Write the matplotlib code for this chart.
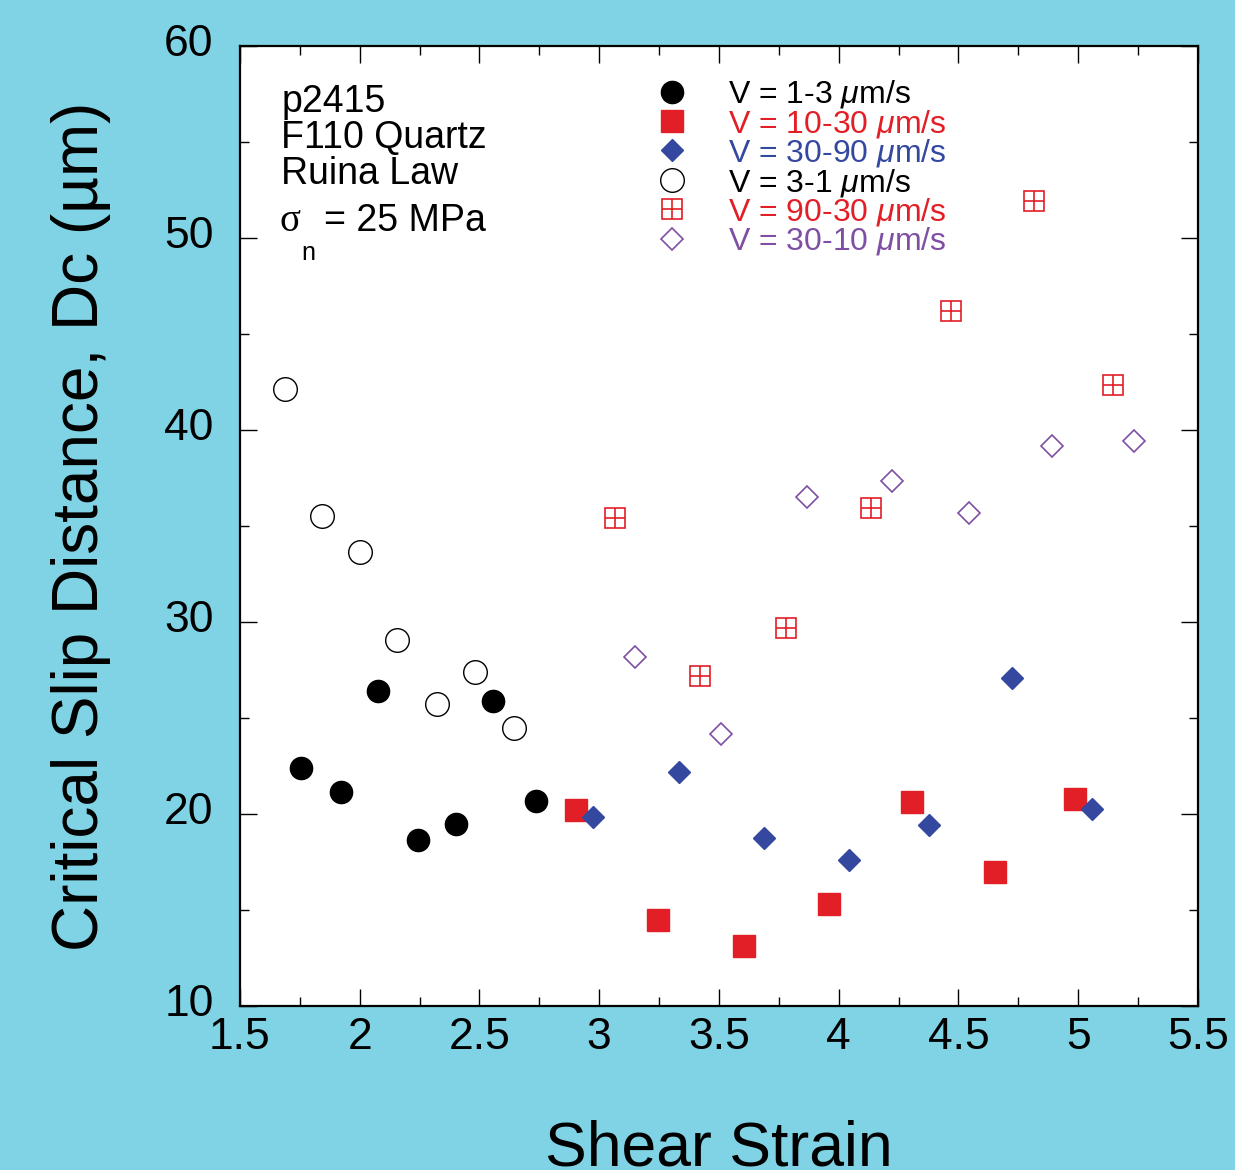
import matplotlib
matplotlib.use("Agg")
import matplotlib.pyplot as plt
from matplotlib.ticker import MultipleLocator
from matplotlib.transforms import ScaledTranslation

plt.rcParams['font.family'] = ['Liberation Sans', 'DejaVu Sans']
plt.rcParams['mathtext.fontset'] = 'custom'
plt.rcParams['mathtext.rm'] = 'Liberation Sans'
plt.rcParams['mathtext.it'] = 'Liberation Sans:italic'

# Dc vs shear strain for each velocity step sequence
strain_1_3 = [1.755, 1.922, 2.076, 2.243, 2.402, 2.556, 2.736]
dc_1_3 = [22.4, 21.15, 26.4, 18.65, 19.5, 25.9, 20.7]

strain_10_30 = [2.903, 3.245, 3.604, 3.960, 4.306, 4.652, 4.986]
dc_10_30 = [20.2, 14.5, 13.1, 15.3, 20.6, 17.0, 20.8]

strain_30_90 = [2.974, 3.333, 3.688, 4.043, 4.377, 4.723, 5.057]
dc_30_90 = [19.85, 22.2, 18.75, 17.6, 19.45, 27.1, 20.25]

strain_3_1 = [1.688, 1.842, 2.001, 2.156, 2.323, 2.481, 2.644]
dc_3_1 = [42.15, 35.5, 33.65, 29.05, 25.75, 27.4, 24.5]

strain_90_30 = [3.066, 3.421, 3.780, 4.135, 4.469, 4.815, 5.145]
dc_90_30 = [35.4, 27.2, 29.7, 35.95, 46.2, 51.9, 42.35]

strain_30_10 = [3.149, 3.508, 3.867, 4.222, 4.544, 4.890, 5.233]
dc_30_10 = [28.2, 24.15, 36.5, 37.35, 35.7, 39.15, 39.45]

BG = '#80d3e4'
RED = '#e21f26'
BLUE = '#3548a0'
PURPLE = '#7e4fa2'

fig = plt.figure(figsize=(12.35, 11.7), dpi=100, facecolor=BG)
ax = fig.add_axes([0.1943, 0.1402, 0.7757, 0.8205])
ax.set_facecolor('white')

ax.plot(strain_1_3, dc_1_3, 'o', ms=16, color='black', ls='none',
        label='V = 1-3 $\\mu$m/s')
ax.plot(strain_10_30, dc_10_30, 's', ms=16, color=RED, ls='none',
        label='V = 10-30 $\\mu$m/s')
ax.plot(strain_30_90, dc_30_90, 'D', ms=11, color=BLUE, ls='none',
        label='V = 30-90 $\\mu$m/s')
ax.plot(strain_3_1, dc_3_1, 'o', ms=17, mfc='white', mec='black', mew=1.0,
        ls='none', label='V = 3-1 $\\mu$m/s')
# open square with a cross through it
ax.plot(strain_90_30, dc_90_30, 's', ms=15, mfc='white', mec=RED, mew=1.2,
        ls='none')
ax.plot(strain_90_30, dc_90_30, '+', ms=15, mec=RED, mew=1.2, ls='none')
sq = ax.plot([], [], 's', ms=15, mfc='white', mec=RED, mew=1.2, ls='none')[0]
cr = ax.plot([], [], '+', ms=15, mec=RED, mew=1.2, ls='none')[0]
ax.plot(strain_30_10, dc_30_10, 'D', ms=11, mfc='white', mec=PURPLE, mew=1.2,
        ls='none', label='V = 30-10 $\\mu$m/s')

h, l = ax.get_legend_handles_labels()
handles = h[:4] + [(sq, cr)] + h[4:]
labels = l[:4] + ['V = 90-30 $\\mu$m/s'] + l[4:]
leg = ax.legend(handles, labels, loc='upper left', bbox_to_anchor=(0.414, 0.983),
                frameon=False, fontsize=23, labelspacing=-0.08,
                handletextpad=1.16, handlelength=1.2, borderpad=0,
                labelcolor=['black', RED, BLUE, 'black', RED, PURPLE])

ax.text(0.043, 0.96, 'p2415\nF110 Quartz\nRuina Law', transform=ax.transAxes,
        fontsize=27, va='top', ha='left', linespacing=1.0)
ax.text(0.041, 0.8075, 'σ', transform=ax.transAxes, fontsize=28,
        va='baseline', ha='left', family='Liberation Serif')
ax.text(0.064, 0.777, 'n', transform=ax.transAxes, fontsize=18,
        va='baseline', ha='left')
ax.text(0.088, 0.8075, '= 25 MPa', transform=ax.transAxes, fontsize=27,
        va='baseline', ha='left')

ax.set_xlim(1.5, 5.5)
ax.set_ylim(10, 60)
ax.xaxis.set_major_locator(MultipleLocator(0.5))
ax.xaxis.set_minor_locator(MultipleLocator(0.25))
ax.yaxis.set_major_locator(MultipleLocator(10))
ax.yaxis.set_minor_locator(MultipleLocator(5))
ax.xaxis.set_major_formatter(plt.FuncFormatter(lambda v, p: f'{v:g}'))
ax.tick_params(which='both', direction='in', top=True, right=True,
               labelsize=32, width=1.0)
ax.tick_params(which='major', length=12)
ax.tick_params(which='minor', length=6.5)
ax.tick_params(axis='x', which='major', pad=8)
ax.tick_params(axis='y', which='major', pad=19)
for s in ax.spines.values():
    s.set_linewidth(1.6)

# y tick labels sit a little above their ticks
lift = ScaledTranslation(0, 6 / 100, fig.dpi_scale_trans)
for lab in ax.get_yticklabels():
    lab.set_transform(lab.get_transform() + lift)

ax.set_xlabel('Shear Strain', fontsize=45, labelpad=44)
ax.set_ylabel('Critical Slip Distance, Dc (µm)', fontsize=46, labelpad=38)

fig.savefig('out.png', dpi=100, facecolor=BG)
